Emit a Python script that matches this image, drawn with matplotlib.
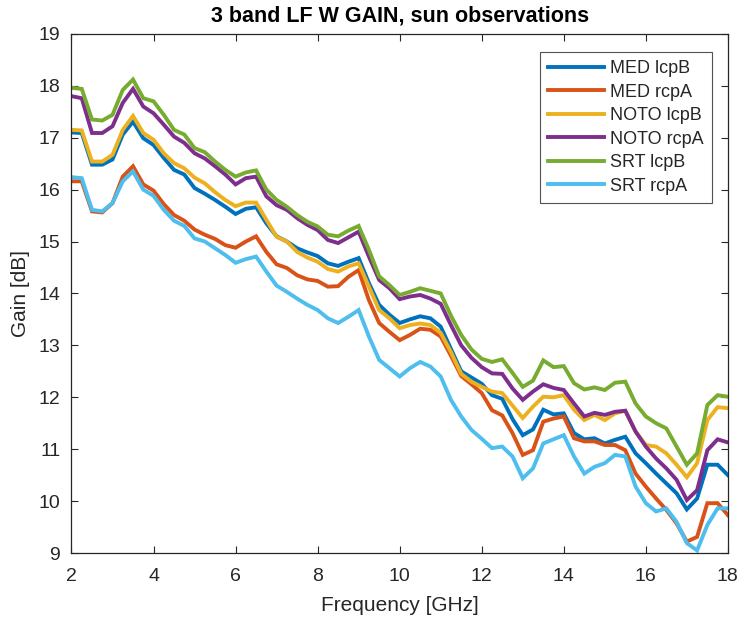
import numpy as np
import matplotlib
matplotlib.use("Agg")
import matplotlib.pyplot as plt

plt.rcParams['font.family'] = ['Liberation Sans', 'DejaVu Sans']

# Frequency grid [GHz], 0.25 GHz steps from 2 to 18
freq = np.linspace(2, 18, 65)

med_lcpB = [17.10, 17.09, 16.48, 16.48, 16.58, 17.06, 17.31, 16.99, 16.86, 16.61,
            16.38, 16.29, 16.03, 15.92, 15.80, 15.67, 15.53, 15.63, 15.66, 15.35,
            15.10, 15.00, 14.87, 14.79, 14.72, 14.58, 14.53, 14.61, 14.68, 14.20,
            13.78, 13.59, 13.43, 13.50, 13.56, 13.52, 13.36, 12.93, 12.50, 12.38,
            12.26, 12.04, 11.97, 11.58, 11.27, 11.38, 11.76, 11.67, 11.69, 11.31,
            11.19, 11.21, 11.11, 11.18, 11.24, 10.92, 10.73, 10.53, 10.34, 10.15,
            9.84, 10.05, 10.70, 10.70, 10.50]

med_rcpA = [16.16, 16.16, 15.58, 15.56, 15.74, 16.25, 16.45, 16.10, 15.98, 15.72,
            15.51, 15.40, 15.23, 15.13, 15.05, 14.93, 14.88, 15.00, 15.10, 14.80,
            14.56, 14.49, 14.35, 14.27, 14.24, 14.13, 14.14, 14.32, 14.45, 13.87,
            13.43, 13.26, 13.10, 13.20, 13.32, 13.30, 13.17, 12.80, 12.41, 12.25,
            12.08, 11.75, 11.65, 11.31, 10.89, 10.98, 11.53, 11.59, 11.63, 11.21,
            11.15, 11.15, 11.08, 11.08, 10.98, 10.53, 10.28, 10.05, 9.83, 9.57,
            9.22, 9.31, 9.96, 9.96, 9.73]

noto_lcpB = [17.15, 17.14, 16.54, 16.54, 16.67, 17.15, 17.42, 17.09, 16.96, 16.70,
             16.51, 16.41, 16.23, 16.12, 15.95, 15.80, 15.68, 15.75, 15.75, 15.42,
             15.09, 15.00, 14.80, 14.69, 14.61, 14.47, 14.42, 14.52, 14.58, 14.13,
             13.68, 13.52, 13.33, 13.39, 13.42, 13.39, 13.24, 12.87, 12.45, 12.30,
             12.20, 12.11, 12.08, 11.84, 11.60, 11.82, 12.01, 12.00, 12.04, 11.76,
             11.56, 11.66, 11.56, 11.69, 11.74, 11.34, 11.08, 11.05, 10.92, 10.70,
             10.46, 10.73, 11.56, 11.81, 11.79]

noto_rcpA = [17.80, 17.76, 17.09, 17.09, 17.22, 17.67, 17.94, 17.60, 17.47, 17.25,
             17.02, 16.90, 16.70, 16.60, 16.45, 16.29, 16.10, 16.22, 16.25, 15.87,
             15.70, 15.61, 15.45, 15.32, 15.22, 15.03, 14.97, 15.08, 15.19, 14.71,
             14.26, 14.10, 13.89, 13.94, 13.97, 13.90, 13.80, 13.39, 13.00, 12.76,
             12.58, 12.46, 12.45, 12.17, 11.95, 12.11, 12.25, 12.18, 12.14, 11.88,
             11.63, 11.70, 11.66, 11.72, 11.74, 11.34, 11.05, 10.82, 10.63, 10.41,
             10.02, 10.21, 10.98, 11.19, 11.13]

srt_lcpB = [17.96, 17.94, 17.35, 17.33, 17.44, 17.92, 18.12, 17.76, 17.70, 17.44,
            17.15, 17.06, 16.80, 16.72, 16.54, 16.38, 16.25, 16.33, 16.37, 16.00,
            15.80, 15.67, 15.51, 15.38, 15.29, 15.13, 15.10, 15.21, 15.30, 14.84,
            14.33, 14.16, 13.97, 14.03, 14.10, 14.05, 14.00, 13.57, 13.20, 12.92,
            12.74, 12.68, 12.73, 12.47, 12.20, 12.32, 12.71, 12.58, 12.60, 12.27,
            12.15, 12.19, 12.14, 12.28, 12.30, 11.88, 11.63, 11.50, 11.40, 11.05,
            10.70, 10.92, 11.85, 12.04, 12.01]

srt_rcpA = [16.24, 16.22, 15.61, 15.58, 15.74, 16.16, 16.35, 16.00, 15.88, 15.61,
            15.40, 15.30, 15.06, 15.00, 14.87, 14.74, 14.59, 14.66, 14.71, 14.42,
            14.15, 14.03, 13.90, 13.78, 13.68, 13.52, 13.43, 13.55, 13.68, 13.17,
            12.72, 12.56, 12.40, 12.56, 12.68, 12.59, 12.40, 11.95, 11.63, 11.37,
            11.20, 11.02, 11.05, 10.86, 10.44, 10.63, 11.11, 11.19, 11.27, 10.86,
            10.53, 10.66, 10.73, 10.89, 10.86, 10.28, 9.96, 9.80, 9.86, 9.60,
            9.19, 9.05, 9.54, 9.86, 9.86]

series_labels = ["MED lcpB", "MED rcpA", "NOTO lcpB", "NOTO rcpA", "SRT lcpB", "SRT rcpA"]
series_values = [med_lcpB, med_rcpA, noto_lcpB, noto_rcpA, srt_lcpB, srt_rcpA]
series_colors = ["#0072BD", "#D95319", "#EDB120", "#7E2F8E", "#77AC30", "#4DBEEE"]

x_ticks = [2, 4, 6, 8, 10, 12, 14, 16, 18]
y_ticks = [9, 10, 11, 12, 13, 14, 15, 16, 17, 18, 19]

fig = plt.figure(figsize=(7.4, 6.21), dpi=100)
ax = fig.add_axes([0.0966, 0.1095, 0.887, 0.836])

for lab, vals, col in zip(series_labels, series_values, series_colors):
    ax.plot(freq, vals, color=col, lw=2.8, label=lab, solid_joinstyle='miter')

ax.set_xlim(2, 18)
ax.set_ylim(9, 19)
ax.set_xticks(x_ticks)
ax.set_yticks(y_ticks)

axis_col = "#262626"
for sp in ax.spines.values():
    sp.set_color(axis_col)
    sp.set_linewidth(0.9)
ax.tick_params(direction='in', top=True, right=True, length=5, width=0.8,
               colors=axis_col, labelsize=14)
ax.tick_params(axis='x', pad=11)
ax.tick_params(axis='y', pad=8)
for t in ax.get_xticklabels() + ax.get_yticklabels():
    t.set_color(axis_col)

ax.set_xlabel("Frequency [GHz]", fontsize=15, color=axis_col, labelpad=8)
ax.set_ylabel("Gain [dB]", fontsize=15, color=axis_col, labelpad=6)
ax.set_title("3 band LF W GAIN, sun observations", fontsize=15.5, fontweight='bold',
             color="#000000", pad=9)

leg = ax.legend(loc='upper right', bbox_to_anchor=(0.9756, 0.965), borderaxespad=0,
                fontsize=13, handlelength=3.1, handletextpad=0.35, labelspacing=0.36,
                borderpad=0.45, frameon=True, fancybox=False, edgecolor=axis_col)
leg.get_frame().set_linewidth(0.8)
for t in leg.get_texts():
    t.set_color(axis_col)

fig.savefig("out.png", dpi=100)
